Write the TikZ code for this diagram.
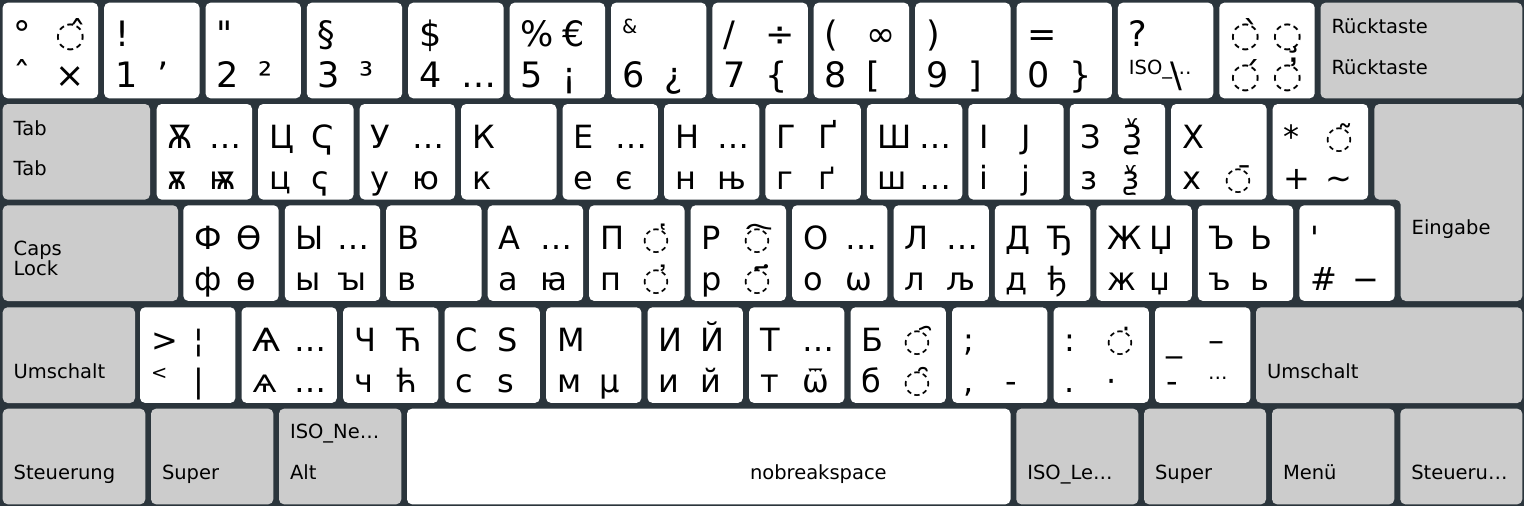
\documentclass[tikz,border=0pt]{standalone}
\usepackage{fontspec}
\setmainfont{DejaVu Sans}
\definecolor{bgc}{HTML}{2B353C}
\definecolor{modc}{HTML}{CCCCCC}
\newcommand\smf{\fontsize{19.5}{20}\selectfont}
\newcommand\gsz{35}
\newcommand\glf{\fontsize{\gsz}{\gsz}\selectfont}
\tikzset{
  keybox/.style={fill=white,rounded corners=5pt},
  modbox/.style={fill=modc,rounded corners=5pt},
  gl/.style={inner sep=0pt,outer sep=0pt,anchor=base west,font=\glf,text=black},
  ml/.style={inner sep=0pt,outer sep=0pt,anchor=base west,font=\smf,text=black},
}
\newcommand\kl[4]{\if\relax\detokenize{#4}\relax\else\node[gl] (#1) at (#2,#3) {#4};\fi}
\newcommand\mykey[7]{%
  \fill[keybox] (#2,#3) rectangle ++(95.4,95.6);
  \kl{#1tl}{#2+11}{#3+44}{#4}%
  \kl{#1bl}{#2+11}{#3+85}{#5}%
  \kl{#1tr}{#2+53}{#3+44}{#6}%
  \kl{#1br}{#2+53}{#3+85}{#7}%
}
\begin{document}
\begin{tikzpicture}[x=1pt,y=-1pt]
\fill[bgc] (0,0) rectangle (1524,506);
\useasboundingbox (0,0) rectangle (1524,506);
% ---------- row 1
\renewcommand\gsz{35}
\mykey{a0}{2.7}{2.7}{°}{ˆ}{^^^^25cc^^^^0302}{×}
\mykey{a1}{104.1}{2.7}{!}{1}{}{’}
\mykey{a2}{205.5}{2.7}{\textquotedbl}{2}{}{²}
\mykey{a3}{306.8}{2.7}{§}{3}{}{³}
\mykey{a4}{408.2}{2.7}{\$}{4}{}{…}
\mykey{a5}{509.6}{2.7}{\%}{5}{€}{¡}
\mykey{a6}{611.0}{2.7}{}{6}{}{¿}
\node[ml] (a6tl) at (622,33) {\&};
\mykey{a7}{712.4}{2.7}{/}{7}{÷}{\{}
\mykey{a8}{813.7}{2.7}{(}{8}{∞}{[}
\mykey{a9}{915.1}{2.7}{)}{9}{}{]}
\mykey{a10}{1016.5}{2.7}{=}{0}{}{\}}
\mykey{a11}{1117.9}{2.7}{?}{}{}{\textbackslash}
\node[ml] (a11bl) at (1128.9,74.7) {ISO\_…};
\mykey{a12}{1219.3}{2.7}{^^^^25cc^^^^0300}{^^^^25cc^^^^0301}{^^^^25cc^^^^0327}{^^^^25cc^^^^0313}
\fill[modbox] (1320.5,2.7) rectangle (1522.3,98.3);
\node[ml] (bs1) at (1331.5,33.3) {Rücktaste};
\node[ml] (bs2) at (1331.5,74) {Rücktaste};
% ---------- row 2
\renewcommand\gsz{32}
\fill[modbox] (2.7,104) rectangle (150,199.6);
\node[ml] (tab1) at (13.7,135) {Tab};
\node[ml] (tab2) at (13.7,175.5) {Tab};
\mykey{b0}{156.7}{104}{Ѫ}{ѫ}{…}{ѭ}
\mykey{b1}{258.2}{104}{Ц}{ц}{Ҁ}{ҁ}
\mykey{b2}{359.6}{104}{У}{у}{…}{ю}
\mykey{b3}{461.1}{104}{К}{к}{}{}
\mykey{b4}{562.5}{104}{Е}{е}{…}{є}
\mykey{b5}{664.0}{104}{Н}{н}{…}{њ}
\mykey{b6}{765.4}{104}{Г}{г}{Ґ}{ґ}
\mykey{b7}{866.9}{104}{Ш}{ш}{…}{…}
\mykey{b8}{968.3}{104}{І}{і}{Ј}{ј}
\mykey{b9}{1069.8}{104}{З}{з}{Ѯ}{ѯ}
\mykey{b10}{1171.2}{104}{Х}{х}{}{^^^^25cc^^^^0304}
\mykey{b11}{1272.7}{104}{*}{+}{^^^^25cc^^^^0303}{\textasciitilde}
\fill[modbox] (1374.3,104) -- (1522.3,104) -- (1522.3,301) -- (1400.7,301) -- (1400.7,199.6) -- (1374.3,199.6) -- cycle;
\node[ml] (ret) at (1411.7,234) {Eingabe};
% ---------- row 3
\fill[modbox] (2.7,205.3) rectangle (178,301);
\node[ml] (caps1) at (13.7,255) {Caps};
\node[ml] (caps2) at (13.7,275) {Lock};
\mykey{c0}{183.3}{205.3}{Ф}{ф}{Ѳ}{ѳ}
\mykey{c1}{284.8}{205.3}{Ы}{ы}{…}{ꙑ}
\mykey{c2}{386.2}{205.3}{В}{в}{}{}
\mykey{c3}{487.7}{205.3}{А}{а}{…}{ꙗ}
\mykey{c4}{589.1}{205.3}{П}{п}{^^^^25cc^^^^0485}{^^^^25cc^^^^0486}
\mykey{c5}{690.6}{205.3}{Р}{р}{^^^^25cc^^^^0487}{^^^^25cc^^^^0483}
\mykey{c6}{792.0}{205.3}{О}{о}{…}{ѡ}
\mykey{c7}{893.5}{205.3}{Л}{л}{…}{љ}
\mykey{c8}{994.9}{205.3}{Д}{д}{Ђ}{ђ}
\mykey{c9}{1096.4}{205.3}{Ж}{ж}{Џ}{џ}
\mykey{c10}{1197.8}{205.3}{Ъ}{ъ}{Ь}{ь}
\mykey{c11}{1299.3}{205.3}{\textquotesingle}{\#}{}{−}
% ---------- row 4
\fill[modbox] (2.7,307.3) rectangle (135,403);
\node[ml] (lsh) at (13.7,378) {Umschalt};
\mykey{d0}{140}{307.3}{>}{}{¦}{|}
\node[ml] (d0bl) at (151,379) {<};
\mykey{d1}{241.5}{307.3}{Ѧ}{ѧ}{…}{…}
\mykey{d2}{343}{307.3}{Ч}{ч}{Ћ}{ћ}
\mykey{d3}{444.5}{307.3}{С}{с}{Ѕ}{ѕ}
\mykey{d4}{546}{307.3}{М}{м}{}{µ}
\mykey{d5}{647.5}{307.3}{И}{и}{Й}{й}
\mykey{d6}{749}{307.3}{Т}{т}{…}{ѿ}
\mykey{d7}{850.5}{307.3}{Б}{б}{^^^^25cc^^^^0484}{^^^^25cc^^^^0311}
\mykey{d8}{952}{307.3}{;}{,}{}{-}
\mykey{d9}{1053.5}{307.3}{:}{.}{^^^^25cc^^^^0307}{·}
\mykey{d10}{1155}{307.3}{\_}{-}{–}{}
\node[ml] (d10br) at (1208,379) {…};
\fill[modbox] (1256,307.3) rectangle (1522.3,403);
\node[ml] (rsh) at (1267,378) {Umschalt};
% ---------- row 5
\fill[modbox] (2.7,408.7) rectangle (145.3,504.3);
\node[ml] (lctl) at (13.7,479) {Steuerung};
\fill[modbox] (151,408.7) rectangle (273.3,504.3);
\node[ml] (lwin) at (162,479) {Super};
\fill[modbox] (279,408.7) rectangle (401.3,504.3);
\node[ml] (lalt1) at (290,438.5) {ISO\_Ne…};
\node[ml] (lalt2) at (290,479) {Alt};
\fill[keybox] (407,408.7) rectangle (1010.5,504.3);
\node[ml] (spc) at (750,479) {nobreakspace};
\fill[modbox] (1016.3,408.7) rectangle (1138.3,504.3);
\node[ml] (ralt) at (1027.3,479) {ISO\_Le…};
\fill[modbox] (1144,408.7) rectangle (1266,504.3);
\node[ml] (rwin) at (1155,479) {Super};
\fill[modbox] (1272,408.7) rectangle (1394.3,504.3);
\node[ml] (menu) at (1283,479) {Menü};
\fill[modbox] (1400.3,408.7) rectangle (1522.3,504.3);
\node[ml] (rctl) at (1411.3,479) {Steueru…};
\end{tikzpicture}
\end{document}
